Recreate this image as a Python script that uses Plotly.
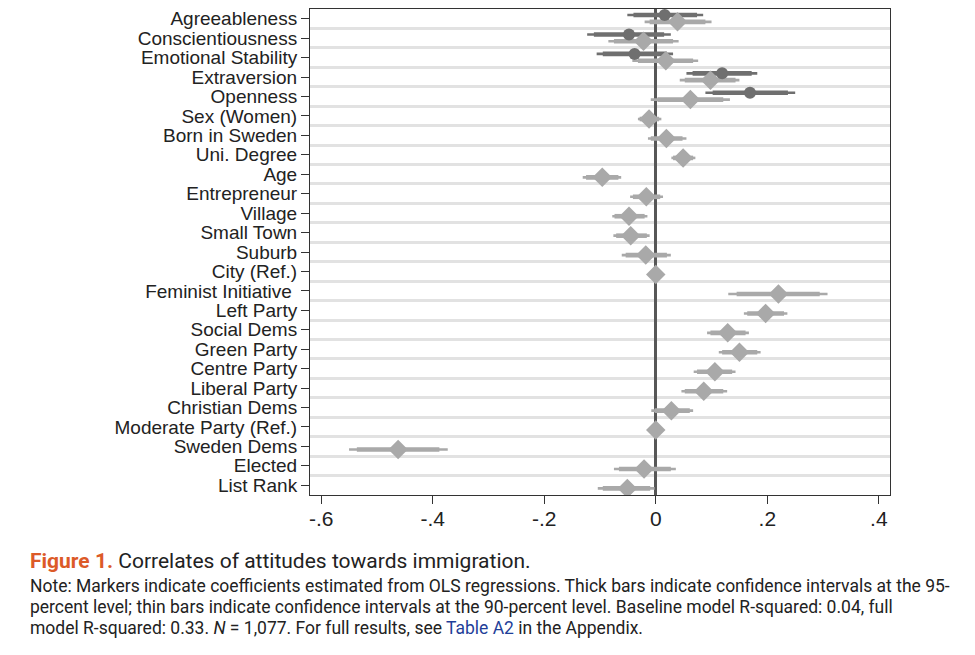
import plotly.graph_objects as go

categories = ["Agreeableness", "Conscientiousness", "Emotional Stability", "Extraversion",
              "Openness", "Sex (Women)", "Born in Sweden", "Uni. Degree", "Age",
              "Entrepreneur", "Village", "Small Town", "Suburb", "City (Ref.)",
              "Feminist Initiative ", "Left Party", "Social Dems", "Green Party",
              "Centre Party", "Liberal Party", "Christian Dems", "Moderate Party (Ref.)",
              "Sweden Dems", "Elected", "List Rank"]

# Full model (light diamonds)
full_est = [0.039, -0.022, 0.018, 0.098, 0.062, -0.012, 0.019, 0.049, -0.096,
            -0.017, -0.048, -0.045, -0.018, 0.0, 0.220, 0.197, 0.129, 0.150,
            0.106, 0.086, 0.028, 0.0, -0.462, -0.021, -0.051]
full_lo95 = [-0.020, -0.085, -0.042, 0.043, -0.009, -0.032, -0.014, 0.028, -0.131,
             -0.046, -0.078, -0.076, -0.061, 0.0, 0.130, 0.158, 0.092, 0.113,
             0.068, 0.046, -0.008, 0.0, -0.550, -0.075, -0.104]
full_hi95 = [0.100, 0.041, 0.076, 0.150, 0.133, 0.010, 0.055, 0.071, -0.062,
             0.013, -0.015, -0.011, 0.027, 0.0, 0.308, 0.236, 0.167, 0.188,
             0.143, 0.128, 0.067, 0.0, -0.373, 0.036, -0.002]
full_lo90 = [-0.011, -0.075, -0.032, 0.052, 0.003, -0.029, -0.009, 0.031, -0.125,
             -0.041, -0.074, -0.071, -0.054, 0.0, 0.145, 0.164, 0.098, 0.119,
             0.074, 0.052, -0.002, 0.0, -0.536, -0.066, -0.095]
full_hi90 = [0.089, 0.031, 0.067, 0.143, 0.121, 0.006, 0.048, 0.067, -0.067,
             0.008, -0.020, -0.016, 0.020, 0.0, 0.294, 0.230, 0.161, 0.182,
             0.137, 0.121, 0.061, 0.0, -0.388, 0.027, -0.010]

# Baseline model (dark circles), personality traits only
base_cats = ["Agreeableness", "Conscientiousness", "Emotional Stability", "Extraversion", "Openness"]
base_est = [0.016, -0.048, -0.038, 0.119, 0.169]
base_lo95 = [-0.051, -0.123, -0.106, 0.055, 0.089]
base_hi95 = [0.085, 0.027, 0.031, 0.182, 0.250]
base_lo90 = [-0.040, -0.111, -0.095, 0.066, 0.102]
base_hi90 = [0.074, 0.015, 0.020, 0.172, 0.237]

x_tickvals = [-0.6, -0.4, -0.2, 0, 0.2, 0.4]
x_ticktext = ["-.6", "-.4", "-.2", "0", ".2", ".4"]

DARK = "#6f6f6f"
LIGHT = "#a9a9a9"
OFF_BASE = -0.19
OFF_FULL = 0.16

idx = {c: i for i, c in enumerate(categories)}


def segs(los, his, ys):
    xs, yy = [], []
    for lo, hi, y in zip(los, his, ys):
        xs += [lo, hi, None]
        yy += [y, y, None]
    return xs, yy


full_y = [idx[c] + OFF_FULL for c in categories]
base_y = [idx[c] + OFF_BASE for c in base_cats]

fig = go.Figure()

for los, his, ys, col, w in [
    (full_lo95, full_hi95, full_y, LIGHT, 2.6),
    (full_lo90, full_hi90, full_y, LIGHT, 4.6),
    (base_lo95, base_hi95, base_y, DARK, 2.6),
    (base_lo90, base_hi90, base_y, DARK, 4.6),
]:
    xs, yy = segs(los, his, ys)
    fig.add_trace(go.Scatter(x=xs, y=yy, mode="lines", line=dict(color=col, width=w),
                             hoverinfo="skip", showlegend=False))

fig.add_trace(go.Scatter(x=full_est, y=full_y, mode="markers",
                         marker=dict(symbol="diamond", size=15, color=LIGHT, line=dict(width=0)),
                         showlegend=False))
fig.add_trace(go.Scatter(x=base_est, y=base_y, mode="markers",
                         marker=dict(symbol="circle", size=12, color=DARK, line=dict(width=0)),
                         showlegend=False))

sans = "Liberation Sans, Arial, sans-serif"
n = len(categories)
fig.update_yaxes(
    range=[n - 0.5, -0.5],
    tickmode="array", tickvals=list(range(n)), ticktext=categories,
    showgrid=False, zeroline=False,
    ticks="outside", ticklen=8, tickwidth=1, tickcolor="#333",
    showline=True, linecolor="#333", linewidth=1, mirror=True,
    ticklabeloverflow="allow",
    tickfont=dict(family=sans, size=19, color="#222"),
    minor=dict(tickvals=[i + 0.5 for i in range(n - 1)], showgrid=True,
               gridcolor="#e2e2e2", gridwidth=3, ticks=""),
)
fig.update_xaxes(
    range=[-0.62, 0.42],
    tickmode="array", tickvals=x_tickvals, ticktext=x_ticktext,
    showgrid=False, zeroline=True, zerolinecolor="#575757", zerolinewidth=2.5,
    ticks="outside", ticklen=8, tickwidth=1, tickcolor="#333",
    showline=True, linecolor="#333", linewidth=1, mirror=True,
    ticklabelstandoff=-3,
    tickfont=dict(family=sans, size=21, color="#222"),
)

# page body has an 8px default margin; compensate
OFF = 8
W, H = 975 - OFF, 655 - OFF
L, T = 310 - OFF, 9 - OFF
R = W - (890 - OFF)
B = H - (495 - OFF)
pw, ph = W - L - R, H - T - B


def px(xp):
    return (xp - OFF - L) / pw


def py(yp):
    return (H - B - (yp - OFF)) / ph


body = "Roboto, sans-serif"
fig.add_annotation(xref="paper", yref="paper", x=px(28), y=py(561), xanchor="left", yanchor="middle",
                   showarrow=False, align="left",
                   text="<span style='color:#dc5a28'><b>Figure 1.</b></span> Correlates of attitudes towards immigration.",
                   font=dict(family=body, size=21, color="#222"))
note_lines = [
    "Note: Markers indicate coefficients estimated from OLS regressions. Thick bars indicate confidence intervals at the 95-",
    "percent level; thin bars indicate confidence intervals at the 90-percent level. Baseline model R-squared: 0.04, full",
    "model R-squared: 0.33. <i>N</i> = 1,077. For full results, see <span style='color:#1f3f99'>Table A2</span> in the Appendix.",
]
for k, line in enumerate(note_lines):
    fig.add_annotation(xref="paper", yref="paper", x=px(28), y=py(586 + 21 * k), xanchor="left",
                       yanchor="middle", showarrow=False, align="left", text=line,
                       font=dict(family=body, size=17.5, color="#222"))

fig.update_layout(
    width=W, height=H,
    margin=dict(l=L, r=R, t=T, b=B),
    paper_bgcolor="white", plot_bgcolor="white",
    showlegend=False,
)

fig.write_html("out.html")
